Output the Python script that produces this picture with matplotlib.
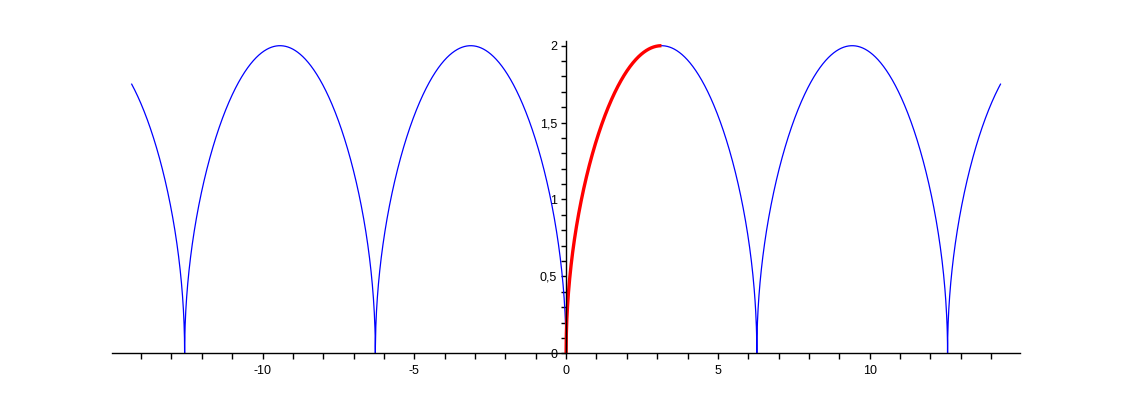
import matplotlib.pyplot as plt
import numpy as np
from matplotlib.ticker import MultipleLocator, FuncFormatter

# plotted function: y = 2*sqrt(|sin(x/2)|)
x_start, x_end = -14.31, 14.31      # blue curve domain
red_start, red_end = 0.0, np.pi     # highlighted arc
zeros = np.array([-4, -2, 0, 2, 4]) * np.pi
x_view = (-14.95, 14.95)
y_view = (0, 2.03)

x = np.sort(np.concatenate([np.linspace(x_start, x_end, 4001), zeros]))
y = 2 * np.sqrt(np.abs(np.sin(x / 2)))
y[np.isin(x, zeros)] = 0
xr = np.linspace(red_start, red_end, 800)
yr = 2 * np.sqrt(np.abs(np.sin(xr / 2)))

plt.rcParams['font.family'] = ['Liberation Sans', 'DejaVu Sans']
plt.rcParams['axes.unicode_minus'] = False

fig = plt.figure(figsize=(11.34, 4.0), dpi=100)
ax = fig.add_axes([0.099, 0.1168, 0.8004, 0.7805])

ax.plot(x, y, color="#0000ff", linewidth=0.9)
ax.plot(xr, yr, color="#ff0000", linewidth=2.4, solid_capstyle="butt")

ax.set_xlim(*x_view)
ax.set_ylim(*y_view)

ax.spines['left'].set_position(('data', 0))
ax.spines['bottom'].set_position(('data', 0))
ax.spines['top'].set_visible(False)
ax.spines['right'].set_visible(False)
for s in ('left', 'bottom'):
    ax.spines[s].set_linewidth(1.0)

ax.xaxis.set_major_locator(MultipleLocator(5))
ax.xaxis.set_minor_locator(MultipleLocator(1))
ax.yaxis.set_major_locator(MultipleLocator(0.5))
ax.yaxis.set_minor_locator(MultipleLocator(0.1))

ax.xaxis.set_major_formatter(FuncFormatter(lambda v, p: f"{v:g}"))
ax.yaxis.set_major_formatter(FuncFormatter(lambda v, p: f"{v:g}".replace(".", ",")))

ax.tick_params(axis='x', which='both', direction='out', length=4.5, width=1, labelsize=9, pad=4)
ax.tick_params(axis='y', which='both', direction='out', length=3.5, width=1, labelsize=9, pad=3)

fig.savefig("out.png", dpi=100)
